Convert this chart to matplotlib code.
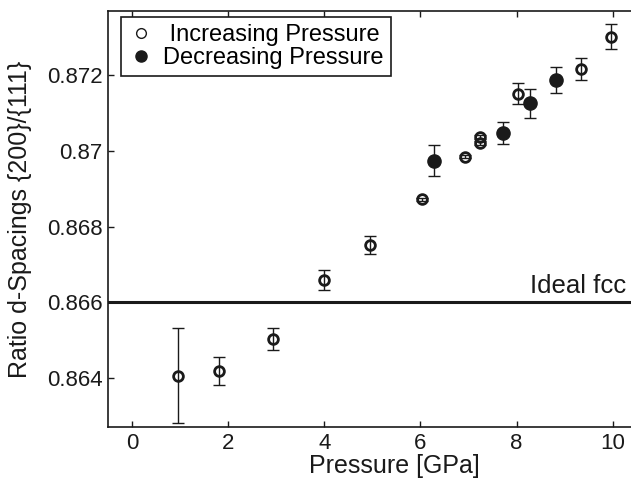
import numpy as np
import matplotlib.pyplot as plt
from matplotlib.lines import Line2D

plt.rcParams["font.family"] = ["Liberation Sans", "DejaVu Sans"]

# increasing pressure runs (open symbols)
p_up = [0.96, 1.82, 2.94, 3.99, 4.96, 6.04, 6.92, 7.24, 7.24, 8.03, 9.35, 9.96]
r_up = [0.86406, 0.86419, 0.86503, 0.86659, 0.86751, 0.86872, 0.86984,
        0.87037, 0.87021, 0.87151, 0.87217, 0.87301]
e_up = [0.00125, 0.00036, 0.00030, 0.00027, 0.00024, 0.00004, 0.00004,
        0.00005, 0.00005, 0.00027, 0.00029, 0.00033]

# decreasing pressure runs (filled symbols)
p_down = [6.28, 7.72, 8.28, 8.82]
r_down = [0.86974, 0.87047, 0.87125, 0.87187]
e_down = [0.00040, 0.00028, 0.00038, 0.00034]

ideal_fcc = 0.866
x_ticks = [0, 2, 4, 6, 8, 10]
y_ticks = [0.864, 0.866, 0.868, 0.870, 0.872]
y_tick_labels = ["0.864", "0.866", "0.868", "0.87", "0.872"]

ink = "#1a1a1a"

fig = plt.figure(figsize=(6.31, 4.78), dpi=100)
ax = fig.add_axes([0.171, 0.1067, 0.829, 0.8703])

ax.axhline(ideal_fcc, color=ink, lw=2.2, zorder=1)
ax.text(10.27, ideal_fcc + 0.00012, "Ideal fcc", ha="right", va="bottom",
        fontsize=18.5, color=ink)

# error bars first, symbols on top
ax.errorbar(p_up, r_up, yerr=e_up, fmt="none", ecolor=ink, elinewidth=1.0,
            capsize=4, capthick=1.0, zorder=2)
ax.errorbar(p_down, r_down, yerr=e_down, fmt="none", ecolor=ink, elinewidth=1.0,
            capsize=4, capthick=1.0, zorder=2)
ax.plot(p_up, r_up, ls="none", marker="o", ms=7, mfc="none", mec=ink, mew=2.0,
        zorder=3)
ax.plot(p_down, r_down, ls="none", marker="o", ms=9.5, mfc=ink, mec=ink,
        zorder=3)

ax.set_xlim(-0.5, 10.38)
ax.set_ylim(0.86271, 0.87369)
ax.set_xticks(x_ticks)
ax.set_yticks(y_ticks)
ax.set_yticklabels(y_tick_labels)
ax.tick_params(direction="in", length=4, width=1, labelsize=16, top=True,
               right=False, pad=4, colors=ink)
for side in ["left", "bottom", "top"]:
    ax.spines[side].set_linewidth(1.2)
    ax.spines[side].set_color(ink)
ax.spines["right"].set_visible(False)

ax.set_xlabel("Pressure [GPa]", fontsize=18, color=ink)
ax.xaxis.set_label_coords(0.547, -0.065)
ax.set_ylabel("Ratio d-Spacings {200}/{111}", fontsize=18, color=ink)
ax.yaxis.set_label_coords(-0.145, 0.5)

handles = [
    Line2D([], [], ls="none", marker="o", ms=7, mfc="none", mec=ink, mew=1.0),
    Line2D([], [], ls="none", marker="o", ms=8, mfc=ink, mec=ink),
]
leg = ax.legend(handles, [" Increasing Pressure", "Decreasing Pressure"],
                loc="upper left", bbox_to_anchor=(0.025, 0.986), fontsize=17,
                fancybox=False, framealpha=1, edgecolor=ink,
                handlelength=1.1, handletextpad=0.4, borderpad=0.3,
                labelspacing=0.05, borderaxespad=0)
leg.get_frame().set_linewidth(1.2)

fig.savefig("out.png", dpi=100)
